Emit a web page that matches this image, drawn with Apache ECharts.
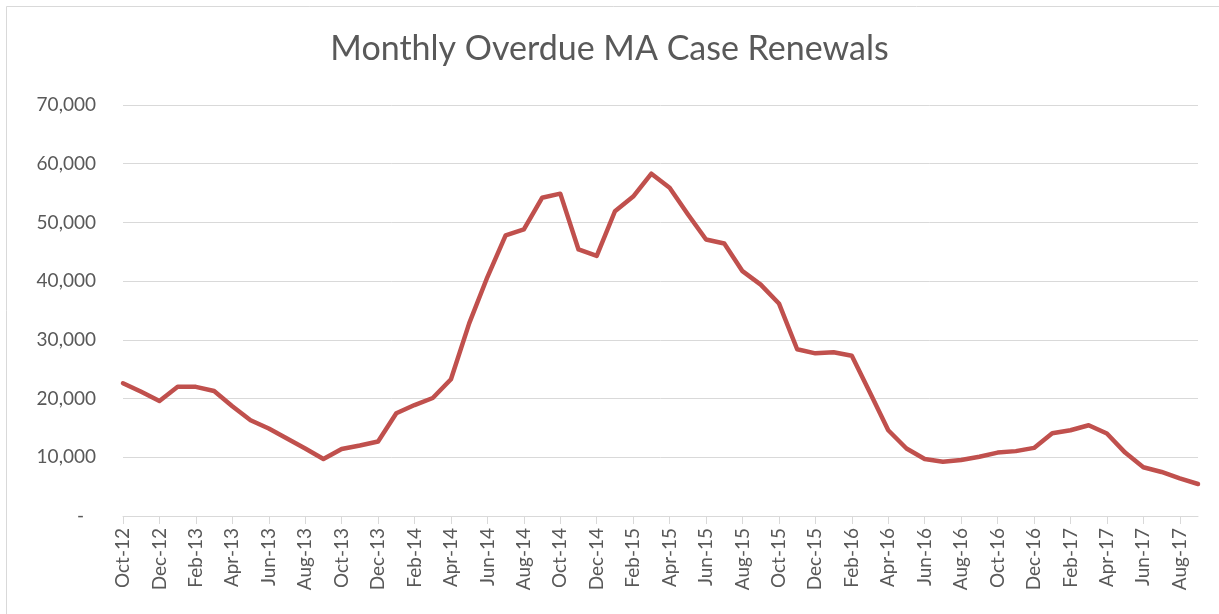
<!DOCTYPE html>
<html>
<head>
<meta charset="utf-8">
<script src="https://cdn.jsdelivr.net/npm/echarts@6/dist/echarts.min.js"></script>
<style>
html,body{margin:0;padding:0;background:#fff;}
#chart{width:1219px;height:614px;}
</style>
</head>
<body>
<div id="chart"></div>
<script>
var categories = [
  "Oct-12","Nov-12","Dec-12","Jan-13","Feb-13","Mar-13","Apr-13","May-13","Jun-13","Jul-13","Aug-13","Sep-13",
  "Oct-13","Nov-13","Dec-13","Jan-14","Feb-14","Mar-14","Apr-14","May-14","Jun-14","Jul-14","Aug-14","Sep-14",
  "Oct-14","Nov-14","Dec-14","Jan-15","Feb-15","Mar-15","Apr-15","May-15","Jun-15","Jul-15","Aug-15","Sep-15",
  "Oct-15","Nov-15","Dec-15","Jan-16","Feb-16","Mar-16","Apr-16","May-16","Jun-16","Jul-16","Aug-16","Sep-16",
  "Oct-16","Nov-16","Dec-16","Jan-17","Feb-17","Mar-17","Apr-17","May-17","Jun-17","Jul-17","Aug-17","Sep-17"
];
var overdueRenewals = [
  22600,21150,19600,22000,22000,21300,18700,16300,14900,13200,11500,9700,
  11400,12000,12700,17500,18900,20100,23300,32800,40700,47800,48800,54200,
  54900,45400,44300,51900,54400,58300,55900,51400,47100,46400,41700,39400,
  36200,28400,27700,27900,27300,21000,14600,11500,9700,9250,9550,10100,
  10800,11050,11600,14100,14600,15450,14050,10800,8300,7500,6400,5450
];
var yTicks = [0,10000,20000,30000,40000,50000,60000,70000];

var chart = echarts.init(document.getElementById('chart'));
var FONT = 'Lato';
chart.setOption({
  animation:false,
  backgroundColor:'#ffffff',
  title:{
    text:'Monthly Overdue MA Case Renewals',
    left:'center', top:27,
    textStyle:{fontFamily:FONT, fontSize:34, fontWeight:'normal', color:'#595959'}
  },
  graphic:[{
    type:'rect', shape:{x:6.5,y:6.5,width:1400,height:800},
    style:{fill:'none', stroke:'#d9d9d9', lineWidth:1}, silent:true
  }],
  grid:{left:123, right:21, top:105, bottom:98, containLabel:false},
  xAxis:{
    type:'category', data:categories, boundaryGap:false,
    axisLine:{lineStyle:{color:'#d9d9d9', width:1}},
    axisTick:{show:true, interval:1, length:8, lineStyle:{color:'#d9d9d9'}},
    axisLabel:{interval:1, rotate:90, margin:12, color:'#595959', fontFamily:FONT, fontSize:19},
    splitLine:{show:false}
  },
  yAxis:{
    type:'value', min:yTicks[0], max:yTicks[yTicks.length-1], interval:10000,
    axisLine:{show:false}, axisTick:{show:false},
    axisLabel:{
      margin:27, color:'#595959', fontFamily:FONT, fontSize:19,
      formatter:function(v){ return v===0 ? '{d|-}' : v.toLocaleString('en-US'); },
      rich:{d:{color:'#595959', fontFamily:FONT, fontSize:19, padding:[0,12,0,0]}}
    },
    splitLine:{lineStyle:{color:'#d9d9d9', width:1}}
  },
  series:[{
    type:'line', data:overdueRenewals, showSymbol:false, symbol:'none',
    lineStyle:{color:'#C0504D', width:4.5, join:'round', cap:'round'},
    itemStyle:{color:'#C0504D'}
  }]
});
</script>
</body>
</html>
